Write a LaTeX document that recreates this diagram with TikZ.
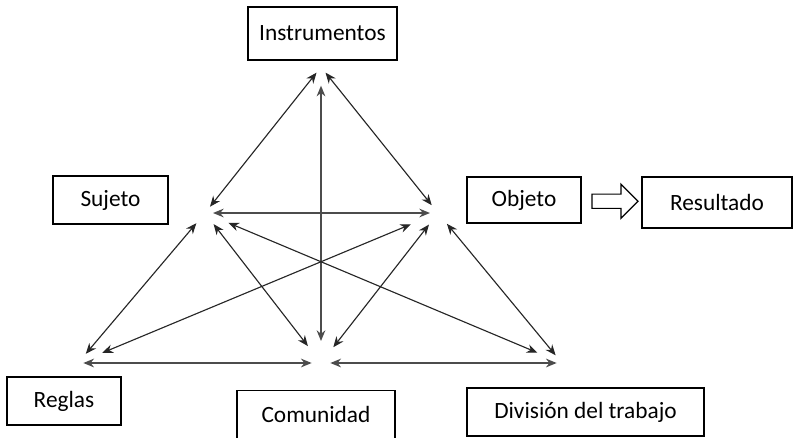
\documentclass[tikz,border=0pt]{standalone}
\usepackage{fontspec}
\setmainfont{Carlito}
\usetikzlibrary{arrows.meta}
\usetikzlibrary{shapes.arrows}
\usetikzlibrary{calc}
\tikzset{
caja/.style={ % cajas con los textos
draw,
line width=0.9pt,
inner sep=0pt,
minimum height=36pt,
font=\fontsize{17.5}{20}\selectfont},
flecha/.style={ % flecha hueca hacia el resultado
single arrow,
draw,
line width=0.9pt,
inner sep=4.9pt,
single arrow head extend=7.5pt,
minimum height=34.5pt},
every edge/.style={ % relaciones del triangulo
draw,
{Stealth[length=8pt,width=6.5pt]}-{Stealth[length=8pt,width=6.5pt]},
black!85,
line width=0.85pt},
recta/.style={line width=1.2pt, black!70}}

\begin{document}
\begin{tikzpicture}[x=0.75pt, y=-0.75pt]
\useasboundingbox (0,0) rectangle (794,437);
\node[caja, minimum width=111.75pt, minimum height=39.75pt] (instr) at (322.5,33.5) {Instrumentos};
\node[caja, minimum width=86.25pt] (suj) at (110.5,200) {Sujeto};
\node[caja, minimum width=85.5pt, minimum height=34.5pt] (obj) at (524,200) {Objeto};
\node[caja, minimum width=112.5pt, minimum height=38.25pt] (res) at (717,202.5) {Resultado};
\node[caja, minimum width=85.5pt] (reg) at (64,401) {Reglas};
\node[caja, minimum width=118.5pt] (com) at (316,414.5) {Comunidad};
\node[caja, minimum width=177.75pt] (div) at (585.5,412) {División del trabajo};
\node[flecha] (paso) at ($(obj.east)!0.5!(res.west)$) {};
% vertices del triangulo
\coordinate (vI) at (321,67);
\coordinate (vS) at (205,213);
\coordinate (vO) at (438,213);
\coordinate (vR) at (78,363);
\coordinate (vC) at (321,363);
\coordinate (vD) at (562,363);
\draw (vI) edge[shorten <=5.4pt, shorten >=6pt] (vS);
\draw (vI) edge[shorten <=5.4pt, shorten >=7.5pt] (vO);
\draw (vI) edge[recta, shorten <=14pt, shorten >=16.5pt] (vC);
\draw (vS) edge[recta, shorten <=6pt, shorten >=6pt] (vO);
\draw (vS) edge[shorten <=10pt, shorten >=9pt] (vR);
\draw (vS) edge[shorten <=10.5pt, shorten >=16pt] (vC);
\draw (vS) edge[shorten <=19pt, shorten >=20pt] (vD);
\draw (vO) edge[shorten <=22pt, shorten >=19.8pt] (vR);
\draw (vO) edge[shorten <=11pt, shorten >=15pt] (vC);
\draw (vO) edge[shorten <=10.5pt, shorten >=7.5pt] (vD);
\draw (vR) edge[recta, shorten <=4pt, shorten >=7pt] (vC);
\draw (vC) edge[recta, shorten <=7pt, shorten >=4pt] (vD);
\end{tikzpicture}
\end{document}
